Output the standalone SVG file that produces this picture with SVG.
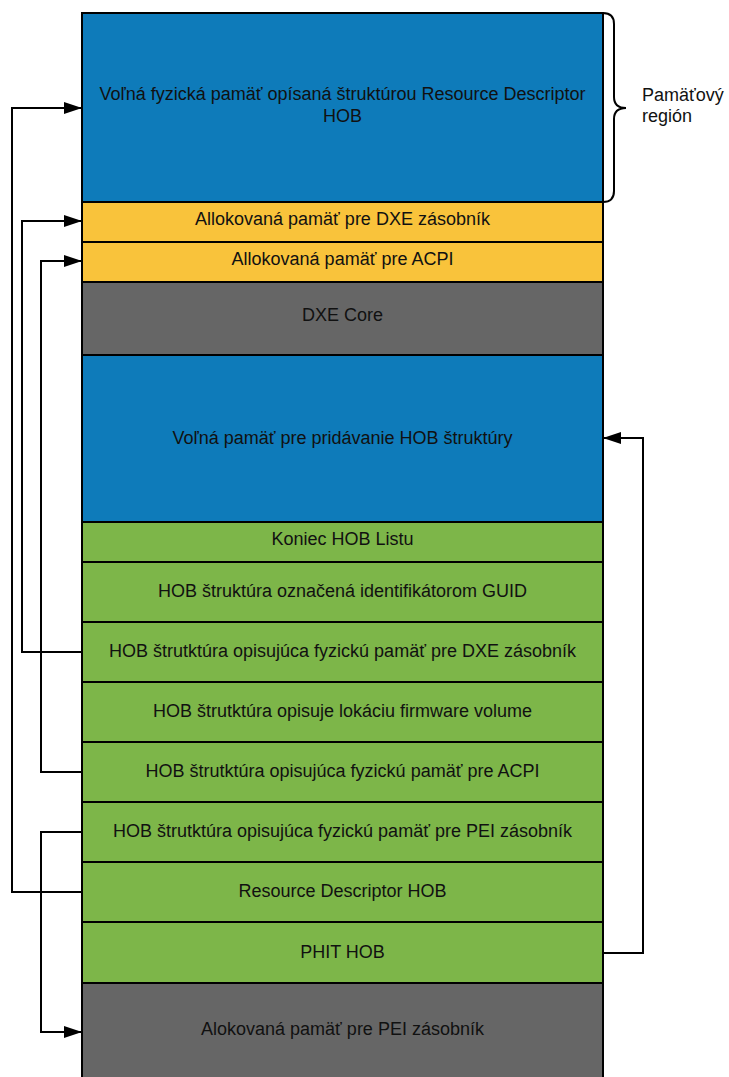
<svg xmlns="http://www.w3.org/2000/svg" width="729" height="1077" viewBox="0 0 729 1077">
  <style>
    .blk { stroke: #000; stroke-width: 2; }
    .blue { fill: #0E7BBA; }
    .yellow { fill: #F9C33B; }
    .gray { fill: #666666; }
    .green { fill: #7DB649; }
    text { font-family: "Liberation Sans", Arial, sans-serif; font-size: 18px; fill: #111; text-anchor: middle; dominant-baseline: central; }
    .note { text-anchor: start; }
    .wire { fill: none; stroke: #000; stroke-width: 2; }
  </style>
  <defs>
    <marker id="arrow" viewBox="0 0 18 12" refX="18" refY="6" markerWidth="18" markerHeight="12" markerUnits="userSpaceOnUse" orient="auto">
      <path d="M0,0 L18,6 L0,12 Z" fill="#000"/>
    </marker>
  </defs>

  <rect width="729" height="1077" fill="#fff"/>

  <g id="free-physical">
    <rect class="blk blue" x="82" y="13" width="521" height="189"/>
    <text x="342.5" y="94">Voľná fyzická pamäť opísaná štruktúrou Resource Descriptor</text>
    <text x="342.5" y="116">HOB</text>
  </g>
  <g id="dxe-stack">
    <rect class="blk yellow" x="82" y="202" width="521" height="40"/>
    <text x="342.5" y="219">Allokovaná pamäť pre DXE zásobník</text>
  </g>
  <g id="acpi-mem">
    <rect class="blk yellow" x="82" y="242" width="521" height="40"/>
    <text x="342.5" y="259">Allokovaná pamäť pre ACPI</text>
  </g>
  <g id="dxe-core">
    <rect class="blk gray" x="82" y="282" width="521" height="73"/>
    <text x="342.5" y="315">DXE Core</text>
  </g>
  <g id="free-hob">
    <rect class="blk blue" x="82" y="355" width="521" height="167"/>
    <text x="342.5" y="438">Voľná pamäť pre pridávanie HOB štruktúry</text>
  </g>
  <g id="hob-end">
    <rect class="blk green" x="82" y="522" width="521" height="40"/>
    <text x="342.5" y="539">Koniec HOB Listu</text>
  </g>
  <g id="hob-guid">
    <rect class="blk green" x="82" y="562" width="521" height="60"/>
    <text x="342.5" y="591">HOB štruktúra označená identifikátorom GUID</text>
  </g>
  <g id="hob-dxe-stack">
    <rect class="blk green" x="82" y="622" width="521" height="60"/>
    <text x="342.5" y="651">HOB štrutktúra opisujúca fyzickú pamäť pre DXE zásobník</text>
  </g>
  <g id="hob-fv">
    <rect class="blk green" x="82" y="682" width="521" height="60"/>
    <text x="342.5" y="711">HOB štrutktúra opisuje lokáciu firmware volume</text>
  </g>
  <g id="hob-acpi">
    <rect class="blk green" x="82" y="742" width="521" height="60"/>
    <text x="342.5" y="771">HOB štrutktúra opisujúca fyzickú pamäť pre ACPI</text>
  </g>
  <g id="hob-pei-stack">
    <rect class="blk green" x="82" y="802" width="521" height="60"/>
    <text x="342.5" y="831">HOB štrutktúra opisujúca fyzickú pamäť pre PEI zásobník</text>
  </g>
  <g id="hob-resource">
    <rect class="blk green" x="82" y="862" width="521" height="60"/>
    <text x="342.5" y="891">Resource Descriptor HOB</text>
  </g>
  <g id="hob-phit">
    <rect class="blk green" x="82" y="922" width="521" height="61"/>
    <text x="342.5" y="952">PHIT HOB</text>
  </g>
  <g id="pei-stack">
    <rect class="blk gray" x="82" y="983" width="521" height="100"/>
    <text x="342.5" y="1029">Alokovaná pamäť pre PEI zásobník</text>
  </g>

  <g id="region-brace">
    <path class="wire" d="M603,13 Q614,13 614,24 L614,97 Q614,108 626,108 Q614,108 614,119 L614,191 Q614,202 603,202"/>
    <text class="note" x="642" y="95">Pamäťový</text>
    <text class="note" x="642" y="116">región</text>
  </g>

  <g id="connectors">
    <path class="wire" d="M82,892 H12 V108 H82" marker-end="url(#arrow)"/>
    <path class="wire" d="M82,652 H22 V221 H82" marker-end="url(#arrow)"/>
    <path class="wire" d="M82,772 H41 V261 H82" marker-end="url(#arrow)"/>
    <path class="wire" d="M82,832 H41 V1032 H82" marker-end="url(#arrow)"/>
    <path class="wire" d="M603,953 H643 V438 H603" marker-end="url(#arrow)"/>
  </g>
</svg>
